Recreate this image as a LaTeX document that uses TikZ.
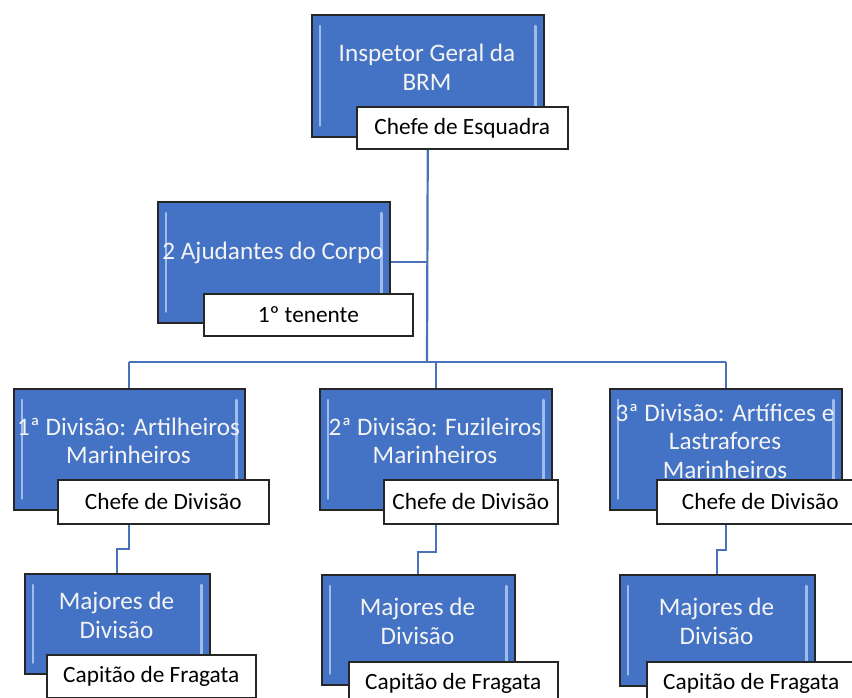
\documentclass[tikz,border=0pt]{standalone}
\usepackage{fontspec}
\setmainfont{Carlito}
\usetikzlibrary{backgrounds,calc}
\definecolor{boxblue}{HTML}{4472C4}
\definecolor{bevel}{HTML}{9FBCEB}
\definecolor{linkblue}{HTML}{4A72B8}
\definecolor{edgegray}{HTML}{262626}
\definecolor{paletext}{HTML}{F4F4F4}
\tikzset{
  bluebox/.style={draw=edgegray, line width=1.6pt, fill=boxblue, anchor=north west, inner sep=0pt},
  tagbox/.style={draw=edgegray, line width=1.6pt, fill=white, anchor=north west, inner sep=0pt,
                 text=black, font=\fontsize{23.3}{26}\selectfont},
  boxtext/.style={text=paletext, align=center, font=\fontsize{25.2}{28.5}\selectfont, inner sep=0pt},
  link/.style={draw=linkblue, line width=2.2pt},
  shine/.style={draw=bevel, line width=2.6pt, line cap=round}
}
\newcommand\orgbox[5]{%
  \node[bluebox, minimum width=#4pt, minimum height=#5pt] (#1) at (#2,#3) {};
  \draw[shine] ($(#1.north west)+(9,12)$) -- ($(#1.south west)+(9,-12)$);
  \draw[shine] ($(#1.north east)+(-9,12)$) -- ($(#1.south east)+(-9,-12)$);
}
\newcommand\orgtag[6]{%
  \node[tagbox, minimum width=#4pt, minimum height=#5pt] (#1) at (#2,#3) {#6};
}
\begin{document}
\begin{tikzpicture}[x=1pt,y=-1pt]
\useasboundingbox (0,0) rectangle (852,698);
\clip (0,0) rectangle (852,698);
% boxes
\orgbox{top}{311}{14}{232}{122}
\node[boxtext] (topT) at (427,67.5) {Inspetor Geral da\\BRM};
\orgtag{topL}{356}{106}{211}{42}{Chefe de Esquadra}

\orgbox{aj}{157}{201}{232}{121}
\node[boxtext] (ajT) at (273,253) {2 Ajudantes do Corpo};
\orgtag{ajL}{203}{293}{209}{42}{1º tenente}

\orgbox{d1}{13}{388}{231}{121}
\node[boxtext] (d1T) at (128.5,441) {1ª Divisão: Artilheiros\\Marinheiros};
\orgtag{d1L}{57}{479}{211}{44}{Chefe de Divisão}

\orgbox{d2}{319}{388}{232}{121}
\node[boxtext] (d2T) at (435,441) {2ª Divisão: Fuzileiros\\Marinheiros};
\orgtag{d2L}{383}{479}{174}{44}{Chefe de Divisão}

\orgbox{d3}{609}{388}{232}{121}
\node[boxtext] (d3T) at (725,441) {3ª Divisão: Artífices e\\Lastrafores\\Marinheiros};
\orgtag{d3L}{656}{479}{207}{44}{Chefe de Divisão}

\orgbox{m1}{24}{573}{185}{100}
\node[boxtext] (m1T) at (116.5,615.5) {Majores de\\Divisão};
\orgtag{m1L}{46}{654}{209}{43}{Capitão de Fragata}

\orgbox{m2}{321}{574}{193}{110}
\node[boxtext] (m2T) at (417.5,621.5) {Majores de\\Divisão};
\orgtag{m2L}{348}{661}{209}{44}{Capitão de Fragata}

\orgbox{m3}{619}{574}{195}{111}
\node[boxtext] (m3T) at (716.5,621.5) {Majores de\\Divisão};
\orgtag{m3L}{646}{661}{209}{44}{Capitão de Fragata}

% connectors
\begin{pgfonlayer}{background}
  \coordinate (busM) at (427,362);
  \draw[link] (top.south) -- (busM);
  \draw[link] (aj.east) -- (aj.east -| busM);
  \draw[link] (d1.north |- busM) -- (d3.north |- busM);
  \draw[link] (d1.north |- busM) -- (d1.north);
  \draw[link] (d2.north |- busM) -- (d2.north);
  \draw[link] (d3.north |- busM) -- (d3.north);
  \draw[link] (d1.south) -- ++(0,38) -| (m1.north);
  \draw[link] (d2.south) -- ++(0,41) -| (m2.north);
  \draw[link] (d3.south) -- ++(0,39) -| (m3.north);
\end{pgfonlayer}
\end{tikzpicture}
\end{document}
